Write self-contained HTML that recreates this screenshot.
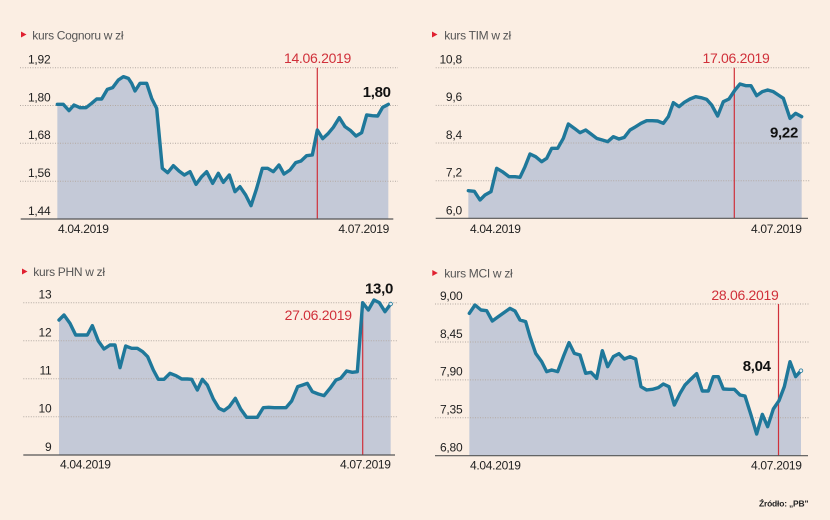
<!DOCTYPE html>
<html><head><meta charset="utf-8"><style>
html,body{margin:0;padding:0;background:#fbeee3;}
svg{display:block;}
text{font-family:"Liberation Sans",Arial,sans-serif;}
.t{font-size:12px;fill:#555;letter-spacing:-0.3px}
.y{font-size:12px;fill:#222;text-anchor:end;letter-spacing:-0.2px}
.d{font-size:12px;fill:#222;letter-spacing:-0.3px}
.r{font-size:14px;fill:#d0303a;letter-spacing:-0.3px}
.b{font-size:15px;font-weight:bold;fill:#111;letter-spacing:-0.3px}
.g{stroke:#b3aaa3;stroke-width:1;stroke-dasharray:1 1.5}
.ax{stroke:#555;stroke-width:1.2}
.rl{stroke:#d0303a;stroke-width:1.2}
.f{fill:#c4c9d7}
.l{fill:none;stroke:#1f789a;stroke-width:10.2;stroke-linejoin:round;stroke-linecap:round}
</style></head><body>
<svg width="830" height="520" viewBox="0 0 830 520" xmlns="http://www.w3.org/2000/svg">
<rect width="830" height="520" fill="#fbeee3"/>

<!-- Panel 1: Cognor -->
<polygon points="21,31.5 26.5,34.5 21,37.5" fill="#e02030"/>
<text class="t" x="32.3" y="39.5">kurs Cognoru w zł</text>
<g transform="translate(0,20) scale(0.33333)">
<polygon class="f" points="172,253 190,253 207,272 222,255 240,263 258,263 275,250 290,237 305,237 322,208 338,203 355,180 370,170 385,175 395,190 405,213 420,190 440,190 455,235 470,265 487,445 503,458 520,437 537,453 553,465 570,455 588,493 605,470 620,455 638,490 655,460 670,487 688,465 705,515 720,500 737,525 753,557 770,505 787,445 803,445 820,455 837,435 852,462 870,450 887,428 903,423 920,407 937,405 952,330 968,356 985,340 1000,322 1018,293 1035,320 1052,332 1068,348 1085,338 1100,285 1117,287 1133,288 1148,262 1165,253 1165,597 172,597"/>
</g>
<line class="g" x1="20" y1="67.7" x2="398" y2="67.7"/>
<line class="g" x1="20" y1="105.5" x2="398" y2="105.5"/>
<line class="g" x1="20" y1="143.3" x2="398" y2="143.3"/>
<line class="g" x1="20" y1="181.2" x2="398" y2="181.2"/>
<line class="rl" x1="317.3" y1="67.7" x2="317.3" y2="219"/>
<g transform="translate(0,20) scale(0.33333)">
<polyline class="l" points="172,253 190,253 207,272 222,255 240,263 258,263 275,250 290,237 305,237 322,208 338,203 355,180 370,170 385,175 395,190 405,213 420,190 440,190 455,235 470,265 487,445 503,458 520,437 537,453 553,465 570,455 588,493 605,470 620,455 638,490 655,460 670,487 688,465 705,515 720,500 737,525 753,557 770,505 787,445 803,445 820,455 837,435 852,462 870,450 887,428 903,423 920,407 937,405 952,330 968,356 985,340 1000,322 1018,293 1035,320 1052,332 1068,348 1085,338 1100,285 1117,287 1133,288 1148,262 1165,253"/>
</g>
<line class="ax" x1="20.7" y1="219" x2="393.3" y2="219"/>
<text class="y" x="50.5" y="63.5">1,92</text>
<text class="y" x="50.5" y="101.3">1,80</text>
<text class="y" x="50.5" y="139.1">1,68</text>
<text class="y" x="50.5" y="177">1,56</text>
<text class="y" x="50.5" y="215">1,44</text>
<text class="d" x="58" y="233">4.04.2019</text>
<text class="d" x="389" y="233" text-anchor="end">4.07.2019</text>
<text class="r" x="317.5" y="63" text-anchor="middle">14.06.2019</text>
<text class="b" x="362.7" y="97">1,80</text>

<!-- Panel 2: TIM -->
<polygon points="432,31.5 437.5,34.5 432,37.5" fill="#e02030"/>
<text class="t" x="444.3" y="39.5">kurs TIM w zł</text>
<g transform="translate(415,20) scale(0.33333)">
<polygon class="f" points="160,512 178,514 195,540 210,525 228,515 245,445 262,455 282,470 300,470 315,472 330,440 345,402 362,410 380,425 395,415 410,385 428,385 445,355 460,312 478,325 495,338 512,330 528,342 545,355 562,360 578,365 595,350 612,357 628,352 645,330 662,320 678,310 695,302 712,302 728,303 745,310 760,290 775,248 792,260 808,247 825,237 842,230 858,233 875,238 890,255 908,288 925,245 942,237 960,210 975,192 992,197 1008,197 1025,227 1042,215 1058,210 1075,215 1090,225 1105,235 1125,295 1142,280 1160,290 1160,595 160,595"/>
</g>
<line class="g" x1="435.7" y1="67.7" x2="809.3" y2="67.7"/>
<line class="g" x1="435.7" y1="105.4" x2="809.3" y2="105.4"/>
<line class="g" x1="435.7" y1="143" x2="809.3" y2="143"/>
<line class="g" x1="435.7" y1="180.7" x2="809.3" y2="180.7"/>
<line class="rl" x1="734.3" y1="67.7" x2="734.3" y2="218.3"/>
<g transform="translate(415,20) scale(0.33333)">
<polyline class="l" points="160,512 178,514 195,540 210,525 228,515 245,445 262,455 282,470 300,470 315,472 330,440 345,402 362,410 380,425 395,415 410,385 428,385 445,355 460,312 478,325 495,338 512,330 528,342 545,355 562,360 578,365 595,350 612,357 628,352 645,330 662,320 678,310 695,302 712,302 728,303 745,310 760,290 775,248 792,260 808,247 825,237 842,230 858,233 875,238 890,255 908,288 925,245 942,237 960,210 975,192 992,197 1008,197 1025,227 1042,215 1058,210 1075,215 1090,225 1105,235 1125,295 1142,280 1160,290"/>
</g>
<line class="ax" x1="435.7" y1="218.3" x2="808" y2="218.3"/>
<text class="y" x="462" y="63.5">10,8</text>
<text class="y" x="462" y="101.2">9,6</text>
<text class="y" x="462" y="138.8">8,4</text>
<text class="y" x="462" y="176.5">7,2</text>
<text class="y" x="462" y="214.3">6,0</text>
<text class="d" x="470" y="233">4.04.2019</text>
<text class="d" x="801.7" y="233" text-anchor="end">4.07.2019</text>
<text class="r" x="736" y="63" text-anchor="middle">17.06.2019</text>
<text class="b" x="770" y="137.5">9,22</text>

<!-- Panel 3: PHN -->
<polygon points="22,268.5 27.5,271.5 22,274.5" fill="#e02030"/>
<text class="t" x="33.3" y="276">kurs PHN w zł</text>
<g transform="translate(0,255) scale(0.33333)">
<polygon class="f" points="177,195 192,180 210,205 227,240 245,240 262,240 277,212 295,258 312,282 330,270 345,270 360,338 377,273 395,280 412,280 428,290 443,305 460,345 475,373 492,373 510,355 528,362 545,372 562,372 575,373 592,405 607,373 622,390 640,432 657,460 672,467 688,455 706,430 722,462 740,487 757,487 772,487 790,458 806,457 823,458 840,458 858,458 875,438 893,395 908,390 922,385 937,410 955,417 972,422 990,400 1008,375 1022,370 1040,348 1057,352 1072,350 1088,143 1105,165 1122,135 1138,143 1155,170 1172,147 1172,600 177,600"/>
</g>
<line class="g" x1="23.3" y1="302.7" x2="398.3" y2="302.7"/>
<line class="g" x1="23.3" y1="340.7" x2="398.3" y2="340.7"/>
<line class="g" x1="23.3" y1="378.7" x2="398.3" y2="378.7"/>
<line class="g" x1="23.3" y1="416.7" x2="398.3" y2="416.7"/>
<line class="rl" x1="362.7" y1="303" x2="362.7" y2="455"/>
<g transform="translate(0,255) scale(0.33333)">
<polyline class="l" points="177,195 192,180 210,205 227,240 245,240 262,240 277,212 295,258 312,282 330,270 345,270 360,338 377,273 395,280 412,280 428,290 443,305 460,345 475,373 492,373 510,355 528,362 545,372 562,372 575,373 592,405 607,373 622,390 640,432 657,460 672,467 688,455 706,430 722,462 740,487 757,487 772,487 790,458 806,457 823,458 840,458 858,458 875,438 893,395 908,390 922,385 937,410 955,417 972,422 990,400 1008,375 1022,370 1040,348 1057,352 1072,350 1088,143 1105,165 1122,135 1138,143 1155,170 1172,147"/>
</g>
<circle cx="390.7" cy="304" r="1.8" fill="#e6ecf0" stroke="#1f789a" stroke-width="0.8"/>
<line class="ax" x1="23.3" y1="455" x2="395" y2="455"/>
<text class="y" x="51.5" y="298.5">13</text>
<text class="y" x="51.5" y="336.5">12</text>
<text class="y" x="51.5" y="374.5">11</text>
<text class="y" x="51.5" y="412.5">10</text>
<text class="y" x="51.5" y="450.8">9</text>
<text class="d" x="60" y="468.5">4.04.2019</text>
<text class="d" x="390.7" y="468.5" text-anchor="end">4.07.2019</text>
<text class="r" x="351.7" y="320" text-anchor="end">27.06.2019</text>
<text class="b" x="365" y="293.5">13,0</text>

<!-- Panel 4: MCI -->
<polygon points="432.3,270 437.8,273 432.3,276" fill="#e02030"/>
<text class="t" x="444.3" y="277.5">kurs MCI w zł</text>
<g transform="translate(415,255) scale(0.33333)">
<polygon class="f" points="163,175 180,150 198,165 215,167 232,198 250,185 268,172 285,160 300,168 315,195 332,200 345,245 362,295 380,320 395,350 410,345 428,350 445,305 462,263 478,295 495,300 512,355 528,352 545,370 562,287 578,335 595,305 612,296 628,312 645,305 662,312 678,395 695,405 712,403 730,398 745,387 762,395 778,450 795,415 810,390 828,372 845,356 862,408 880,408 895,365 910,365 925,402 942,403 958,403 975,420 990,423 1008,480 1025,537 1042,478 1058,515 1075,462 1092,437 1108,395 1125,320 1142,365 1158,347 1158,602 163,602"/>
</g>
<line class="g" x1="435" y1="304" x2="809.3" y2="304"/>
<line class="g" x1="435" y1="342" x2="809.3" y2="342"/>
<line class="g" x1="435" y1="379.9" x2="809.3" y2="379.9"/>
<line class="g" x1="435" y1="417.8" x2="809.3" y2="417.8"/>
<line class="rl" x1="778.5" y1="304" x2="778.5" y2="455.7"/>
<g transform="translate(415,255) scale(0.33333)">
<polyline class="l" points="163,175 180,150 198,165 215,167 232,198 250,185 268,172 285,160 300,168 315,195 332,200 345,245 362,295 380,320 395,350 410,345 428,350 445,305 462,263 478,295 495,300 512,355 528,352 545,370 562,287 578,335 595,305 612,296 628,312 645,305 662,312 678,395 695,405 712,403 730,398 745,387 762,395 778,450 795,415 810,390 828,372 845,356 862,408 880,408 895,365 910,365 925,402 942,403 958,403 975,420 990,423 1008,480 1025,537 1042,478 1058,515 1075,462 1092,437 1108,395 1125,320 1142,365 1158,347"/>
</g>
<circle cx="801" cy="370.7" r="1.8" fill="#e6ecf0" stroke="#1f789a" stroke-width="0.8"/>
<line class="ax" x1="435" y1="455.7" x2="808" y2="455.7"/>
<text class="y" x="462.5" y="299.8">9,00</text>
<text class="y" x="462.5" y="337.8">8,45</text>
<text class="y" x="462.5" y="375.6">7,90</text>
<text class="y" x="462.5" y="413.5">7,35</text>
<text class="y" x="462.5" y="451.4">6,80</text>
<text class="d" x="470" y="469.5">4.04.2019</text>
<text class="d" x="801.7" y="469.5" text-anchor="end">4.07.2019</text>
<text class="r" x="778.5" y="300" text-anchor="end">28.06.2019</text>
<text class="b" x="742.7" y="371">8,04</text>

<text x="808.3" y="506.5" text-anchor="end" style="font-size:8.5px;font-weight:bold;fill:#222;letter-spacing:-0.2px">Źródło: „PB"</text>
</svg>
</body></html>
